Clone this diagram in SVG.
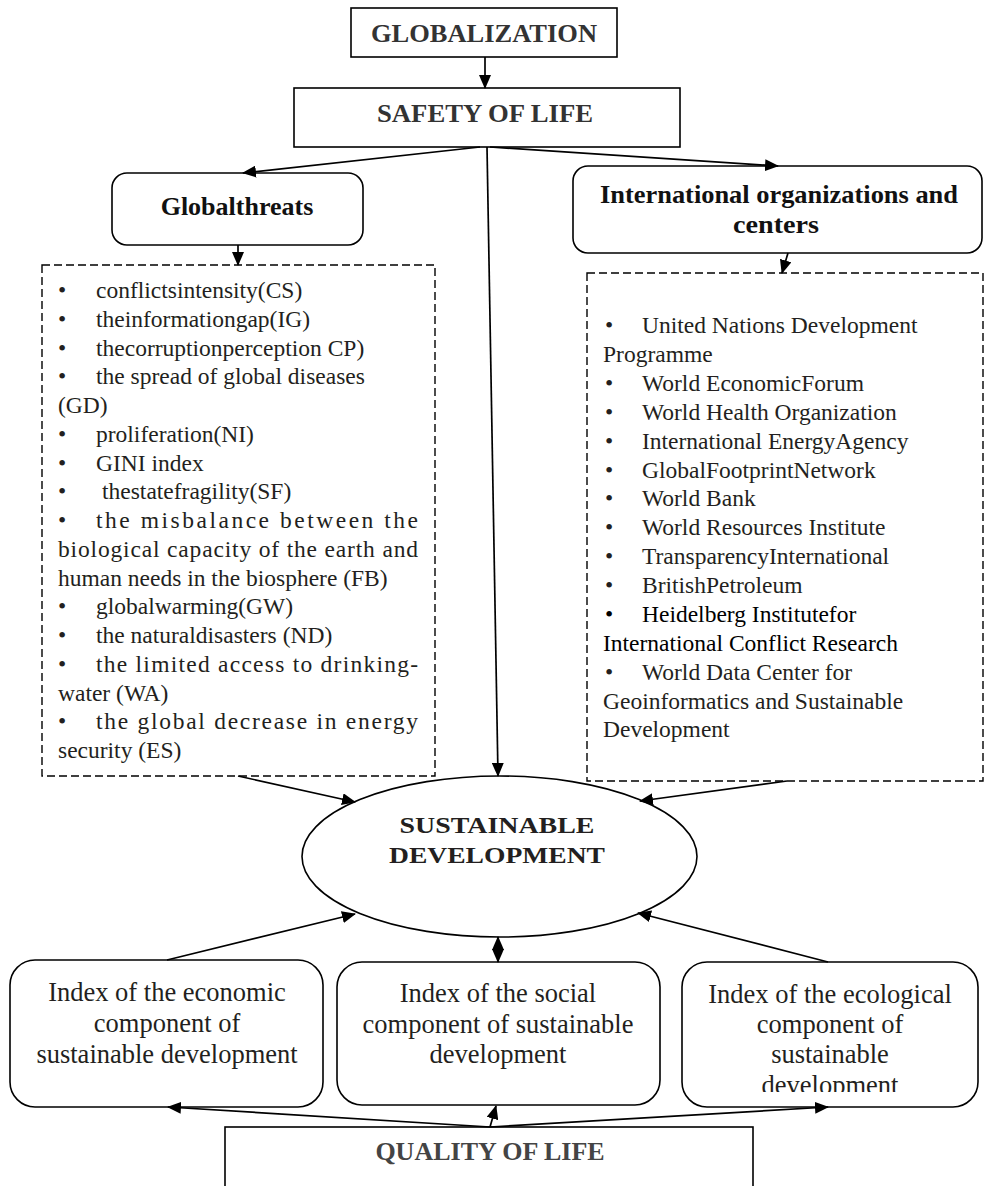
<svg xmlns="http://www.w3.org/2000/svg" width="985" height="1186" viewBox="0 0 985 1186">
<style>
.box{fill:#fff;stroke:#000;stroke-width:1.6}
.dash{fill:#fff;stroke:#000;stroke-width:1.4;stroke-dasharray:8 4}
.title{font-family:"Liberation Serif","Times New Roman",serif;font-weight:bold;text-anchor:middle}
.lst{font-family:"Liberation Serif","Times New Roman",serif;font-size:23.5px;fill:#231f20}
.bt{font-family:"Liberation Serif","Times New Roman",serif;font-size:26.5px;fill:#231f20;text-anchor:middle}
.con{fill:none;stroke:#000;stroke-width:1.7;marker-end:url(#ah)}
</style>
<defs>
<marker id="ah" markerUnits="userSpaceOnUse" markerWidth="14" markerHeight="12" refX="13" refY="6" orient="auto-start-reverse">
<path d="M0,0 L14,6 L0,12 z" fill="#000"/>
</marker>
<clipPath id="clipEco"><rect x="682" y="962" width="296" height="130"/></clipPath>
</defs>
<rect width="985" height="1186" fill="#fff"/>

<g id="globalization">
<rect class="box" x="351" y="8" width="266" height="49"/>
<text class="title" x="484" y="42" font-size="25" fill="#333" textLength="226" lengthAdjust="spacingAndGlyphs">GLOBALIZATION</text>
</g>

<g id="safety">
<rect class="box" x="294" y="88" width="386" height="59"/>
<text class="title" x="485" y="122" font-size="25" fill="#333" textLength="216" lengthAdjust="spacingAndGlyphs">SAFETY OF LIFE</text>
</g>

<g id="globalthreats">
<rect class="box" x="112" y="173" width="251" height="72" rx="15"/>
<text class="title" x="237" y="215" font-size="26" fill="#111">Globalthreats</text>
</g>

<g id="international">
<rect class="box" x="573" y="166" width="409" height="87" rx="15"/>
<text class="title" x="779" y="203" font-size="25" fill="#111" textLength="358" lengthAdjust="spacingAndGlyphs">International organizations and</text>
<text class="title" x="776" y="233" font-size="25" fill="#111" textLength="86" lengthAdjust="spacingAndGlyphs">centers</text>
</g>

<g id="threats-list">
<rect class="dash" x="42" y="265" width="393" height="511"/>
<g class="lst">
<text x="58" y="298">•</text><text x="96" y="298">conflictsintensity(CS)</text>
<text x="58" y="327">•</text><text x="96" y="327">theinformationgap(IG)</text>
<text x="58" y="356">•</text><text x="96" y="356">thecorruptionperception CP)</text>
<text x="58" y="384">•</text><text x="96" y="384">the spread of global diseases</text>
<text x="58" y="413">(GD)</text>
<text x="58" y="442">•</text><text x="96" y="442">proliferation(NI)</text>
<text x="58" y="471">•</text><text x="96" y="471">GINI index</text>
<text x="58" y="499">•</text><text x="102" y="499">thestatefragility(SF)</text>
<text x="58" y="528">•</text><text x="96" y="528" textLength="322" lengthAdjust="spacing">the misbalance between the</text>
<text x="58" y="557" textLength="360" lengthAdjust="spacing">biological capacity of the earth and</text>
<text x="58" y="586">human needs in the biosphere (FB)</text>
<text x="58" y="614">•</text><text x="96" y="614">globalwarming(GW)</text>
<text x="58" y="643">•</text><text x="96" y="643">the naturaldisasters (ND)</text>
<text x="58" y="672">•</text><text x="96" y="672" textLength="322" lengthAdjust="spacing">the limited access to drinking-</text>
<text x="58" y="701">water (WA)</text>
<text x="58" y="729">•</text><text x="96" y="729" textLength="322" lengthAdjust="spacing">the global decrease in energy</text>
<text x="58" y="758">security (ES)</text>
</g>
</g>

<g id="organizations-list">
<rect class="dash" x="587" y="273" width="396" height="508"/>
<g class="lst">
<text x="605" y="333">•</text><text x="642" y="333">United Nations Development</text>
<text x="603" y="362">Programme</text>
<text x="605" y="391">•</text><text x="642" y="391">World EconomicForum</text>
<text x="605" y="420">•</text><text x="642" y="420">World Health Organization</text>
<text x="605" y="449">•</text><text x="642" y="449">International EnergyAgency</text>
<text x="605" y="478">•</text><text x="642" y="478">GlobalFootprintNetwork</text>
<text x="605" y="506">•</text><text x="642" y="506">World Bank</text>
<text x="605" y="535">•</text><text x="642" y="535">World Resources Institute</text>
<text x="605" y="564">•</text><text x="642" y="564">TransparencyInternational</text>
<text x="605" y="593">•</text><text x="642" y="593">BritishPetroleum</text>
<text x="605" y="622" fill="#000">•</text><text x="642" y="622" fill="#000">Heidelberg Institutefor</text>
<text x="603" y="651" fill="#000">International Conflict Research</text>
<text x="605" y="680">•</text><text x="642" y="680">World Data Center for</text>
<text x="603" y="709">Geoinformatics and Sustainable</text>
<text x="603" y="737">Development</text>
</g>
</g>

<g id="sustainable">
<ellipse class="box" cx="499.5" cy="856.5" rx="197.5" ry="80.5"/>
<text class="title" x="497" y="833" font-size="24" fill="#231f20" textLength="195" lengthAdjust="spacingAndGlyphs">SUSTAINABLE</text>
<text class="title" x="497" y="863" font-size="24" fill="#231f20" textLength="216" lengthAdjust="spacingAndGlyphs">DEVELOPMENT</text>
</g>

<g id="economic">
<rect class="box" x="10" y="960" width="313" height="147" rx="25"/>
<text class="bt" x="167" y="1001">Index of the economic</text>
<text class="bt" x="167" y="1032">component of</text>
<text class="bt" x="167" y="1063">sustainable development</text>
</g>

<g id="social">
<rect class="box" x="337" y="962" width="323" height="143" rx="25"/>
<text class="bt" x="498" y="1002">Index of the social</text>
<text class="bt" x="498" y="1033">component of sustainable</text>
<text class="bt" x="498" y="1063">development</text>
</g>

<g id="ecological">
<rect class="box" x="682" y="962" width="296" height="145" rx="25"/>
<text class="bt" x="830" y="1003">Index of the ecological</text>
<text class="bt" x="830" y="1033">component of</text>
<text class="bt" x="830" y="1063">sustainable</text>
<text class="bt" x="830" y="1094" clip-path="url(#clipEco)">development</text>
</g>

<g id="quality">
<rect class="box" x="225" y="1127" width="528" height="80"/>
<text class="title" x="490" y="1160" font-size="26" fill="#444">QUALITY OF LIFE</text>
</g>

<g id="connectors">
<line class="con" x1="485" y1="57" x2="485" y2="88"/>
<line class="con" x1="480" y1="147" x2="243" y2="173"/>
<line class="con" x1="490" y1="147" x2="778" y2="166"/>
<line class="con" x1="487" y1="147" x2="498" y2="776"/>
<line class="con" x1="238" y1="245" x2="238" y2="265"/>
<line class="con" x1="788" y1="253" x2="782" y2="273"/>
<line class="con" x1="238" y1="776" x2="355" y2="802"/>
<line class="con" x1="787" y1="781" x2="640" y2="801"/>
<line class="con" x1="167" y1="960" x2="355" y2="914"/>
<line class="con" x1="828" y1="962" x2="638" y2="913"/>
<line class="con" x1="498" y1="949" x2="498" y2="937"/>
<line class="con" x1="498" y1="950" x2="498" y2="962"/>
<line class="con" x1="490" y1="1127" x2="168" y2="1107"/>
<line class="con" x1="490" y1="1127" x2="496" y2="1106"/>
<line class="con" x1="490" y1="1127" x2="828" y2="1107"/>
</g>
</svg>
